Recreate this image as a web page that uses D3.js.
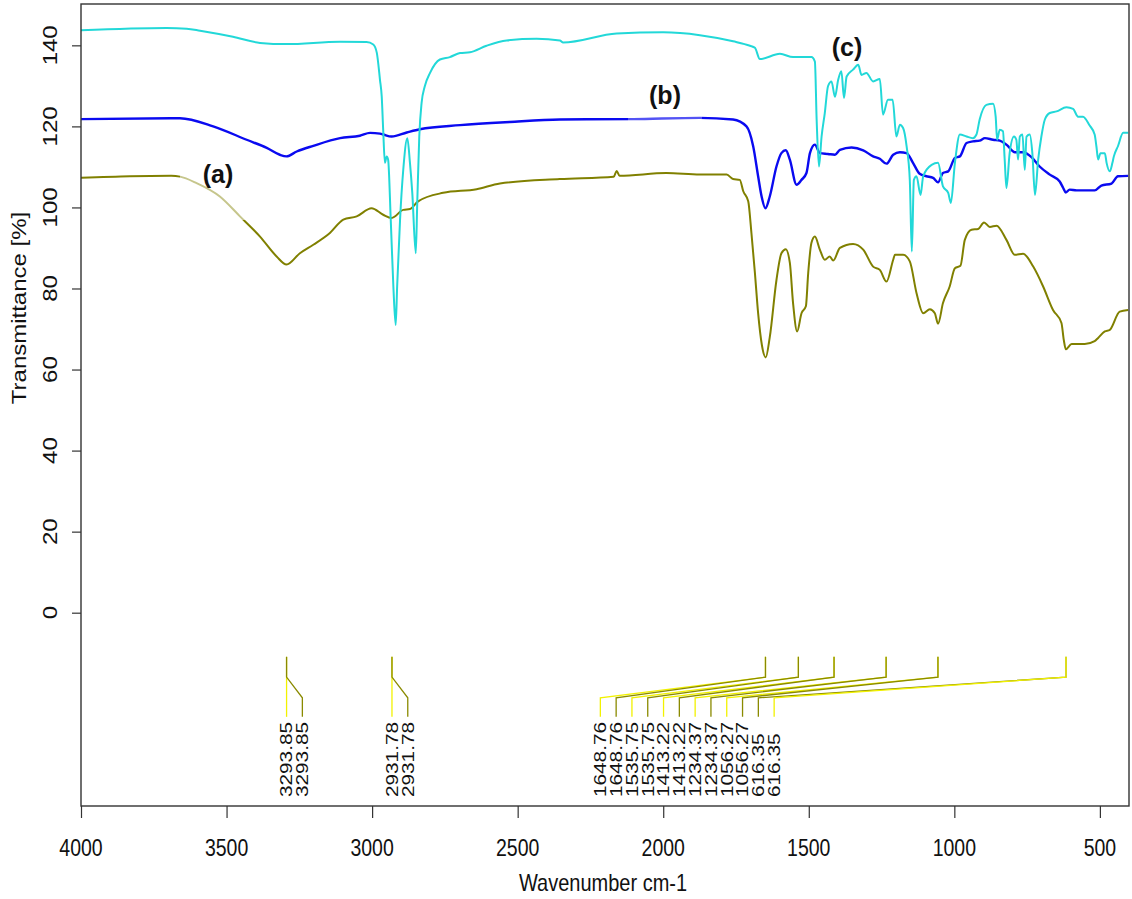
<!DOCTYPE html>
<html>
<head>
<meta charset="utf-8">
<script src="https://cdn.jsdelivr.net/npm/d3@7"></script>
<style>
  html, body { margin: 0; padding: 0; background: #fff; }
  #ftir { width: 1132px; height: 899px; }
  text { font-family: "Liberation Sans", Arial, sans-serif; }
</style>
</head>
<body>
<div id="ftir"></div>
<script>
// ---- data (wavenumber cm-1, transmittance %) ----
var spectrumA = [
  [4000,107.3],[3832,107.7],[3690,107.8],[3660,107.6],[3603,106],[3523,102.7],[3454,97.8],[3385,92.8],
  [3328,87.9],[3294,85.9],[3248,88.7],[3202,90.8],[3145,93.7],[3099,97],[3053,97.8],
  [3002,99.8],[2962,98.2],[2933,97.4],[2893,99.4],[2870,99.6],[2842,101.5],[2756,103.6],
  [2641,104.5],[2561,105.9],[2355,107],[2170,107.6],[2160,109],[2150,107.8],[1989,108.5],
  [1874,108.1],[1782,108.1],[1760,107],[1737,106.8],[1725,104],[1708,101.5],[1697,93.7],
  [1685,83.8],[1674,73.9],[1661,66],[1648,63],[1634,68],[1611,82.1],[1594,88.7],[1579,89.7],
  [1565,86.3],[1554,76.4],[1540,69.4],[1525,73.9],[1510,75.6],[1502,83.8],[1491,91.2],
  [1479,92.8],[1462,89.6],[1445,87.1],[1428,87.9],[1416,86.9],[1393,90],[1348,91],
  [1313,89.6],[1279,85.4],[1256,84.6],[1233,81.7],[1210,87.1],[1204,88.3],[1176,88.3],
  [1153,86.7],[1130,78.9],[1107,73.9],[1084,74.9],[1067,73.9],[1056,71.3],[1039,76.4],
  [1016,80.5],[998,85],[979,85.6],[964,92],[941,94.5],[918,94.7],[898,96.3],[878,95.2],
  [855,95.5],[821,92],[792,88.3],[764,88.6],[729,85.4],[695,80.5],[661,74.7],[632,71.5],
  [624,67.3],[617,65],[597,66.3],[552,66.3],[518,67],[506,67.8],[483,69.4],[466,69.8],
  [432,74.3],[403,74.7]
];

var spectrumB = [
  [4000,121.8],[3660,122],[3546,120],[3431,116.7],[3362,114.7],[3317,113],[3294,112.6],
  [3259,113.8],[3202,115.2],[3110,117.1],[3042,117.7],[3007,118.4],[2973,118.2],[2962,118],
  [2933,117.5],[2881,118.5],[2836,119.3],[2698,120.3],[2527,121.1],[2355,121.7],[2103,121.8],
  [1874,122.1],[1760,121.7],[1714,120],[1691,115.1],[1674,107.7],[1662,102.7],[1649,99.8],
  [1634,102.7],[1611,110.1],[1594,113.4],[1579,114.1],[1565,111.8],[1542,105.6],[1525,106.8],
  [1508,108.5],[1496,113.4],[1479,115.5],[1462,113.4],[1434,113.2],[1410,113],[1393,114.2],
  [1353,114.8],[1313,114.1],[1279,112.6],[1256,112],[1233,110.8],[1210,113],[1187,113.6],
  [1164,113.4],[1142,111],[1119,108.3],[1096,107.7],[1073,107.3],[1056,106.2],[1039,108.5],
  [1021,108.9],[998,112.2],[981,112.6],[958,115.9],[936,116.3],[913,116.5],[895,117.1],
  [867,116.7],[844,116.5],[821,115.5],[792,113.6],[764,113.6],[735,112.4],[707,110.1],
  [672,108.1],[638,106.4],[626,104.8],[617,103.7],[604,104.4],[580,104.2],[518,104.2],
  [495,105.4],[460,105.9],[438,107.7],[403,107.8]
];

var spectrumC = [
  [4000,143.7],[3706,144.3],[3637,144.1],[3591,143.6],[3478,142.1],[3385,140.6],[3294,140.3],
  [3110,140.9],[3019,140.8],[2996,140.2],[2984,138.2],[2973,131.5],[2967,127.4],[2962,119.2],
  [2956,111],[2950,112.6],[2945,111.8],[2936,97],[2927,80.5],[2919,71],[2914,80.5],[2904,97],
  [2893,109.3],[2879,117.1],[2870,111],[2862,103.6],[2850,88.7],[2845,101],[2838,117.5],
  [2830,125.8],[2819,129.9],[2801,133.2],[2767,136.5],[2733,137.1],[2698,138.1],[2664,138.3],
  [2607,139.9],[2538,141.2],[2435,141.6],[2355,141.2],[2344,140.7],[2160,142.9],[2000,143.2],
  [1874,142.5],[1760,141],[1702,139.9],[1685,139.4],[1668,136.6],[1599,137.9],[1554,137.1],
  [1491,137.1],[1479,136],[1473,121.7],[1465,110.1],[1456,117.5],[1445,123.3],[1434,129.9],
  [1422,131.1],[1410,127.3],[1399,131.5],[1388,133.6],[1379,127],[1370,132.3],[1348,134],
  [1330,135.2],[1319,132.7],[1302,133.2],[1279,131.1],[1256,131.7],[1245,122.9],[1228,126.6],
  [1212,126.6],[1199,117.5],[1187,120.4],[1176,119.6],[1164,115.1],[1153,106.8],[1146,89.1],
  [1139,106.8],[1130,107.7],[1116,103.1],[1107,107.7],[1078,110.5],[1056,111],[1039,105.2],
  [1021,103.6],[1012,101.1],[998,111],[981,118],[958,117.5],[936,117.1],[924,118],[913,121.7],
  [890,125.3],[867,125.6],[858,122.4],[853,116.7],[844,119.2],[833,118.8],[827,111.8],
  [821,104.8],[810,113.4],[795,117.5],[787,116.7],[781,111.8],[775,117.5],[766,118],
  [758,109.3],[752,117.5],[741,118],[732,113.4],[723,103.1],[712,111.8],[701,117.5],
  [689,121.7],[672,123.3],[649,123.7],[615,124.7],[592,124.3],[575,122.4],[558,122.4],
  [535,120.2],[518,118],[512,115.1],[506,111.8],[498,113.4],[483,113.4],[477,111],[466,108.9],
  [457,111],[452,112.6],[438,115.1],[420,118.4],[403,118.4]
];

var seriesNames = ["(a)", "(b)", "(c)"];
var seriesColors = ["#808000", "#0a0af0", "#22d8d8"];

var xTicks = [4000, 3500, 3000, 2500, 2000, 1500, 1000, 500];
var yTicks = [0, 20, 40, 60, 80, 100, 120, 140];

var peakGroups = [
  { peaks: [3293.85], start: 3293.85 },
  { peaks: [2931.78], start: 2931.78 },
  { peaks: [1648.76, 1535.75, 1413.22, 1234.37, 1056.27, 616.35], start: 2216 }
];
var peakLineColors = ["#f2f200", "#8a8a00"];
var lastPairSwapped = true;

(function () {
  var width = 1132, height = 899,
      left = 81, right = 1129, top = 4, bottom = 806,
      stretch = 1.2;

  var x = d3.scaleLinear().domain([4000, 400]).range([left, right]);
  var y = d3.scaleLinear().domain([-47.7, 150.2]).range([bottom, top]);

  var svg = d3.select("#ftir").append("svg")
      .attr("width", width)
      .attr("height", height);

  /* ---------------- axes ---------------- */
  var xAxis = svg.append("g")
      .attr("transform", "translate(0," + bottom + ")")
      .call(d3.axisBottom(x).tickValues(xTicks).tickSize(12).tickFormat(""));
  xAxis.select(".domain").remove();
  xAxis.selectAll("line").attr("stroke", "#333").attr("stroke-width", 1.2);

  var yAxis = svg.append("g")
      .attr("transform", "translate(" + left + ",0)")
      .call(d3.axisLeft(y).tickValues(yTicks).tickSize(9).tickFormat(""));
  yAxis.select(".domain").remove();
  yAxis.selectAll("line").attr("stroke", "#333").attr("stroke-width", 1.2);

  svg.append("g").selectAll("text")
      .data(xTicks)
    .enter().append("text")
      .attr("transform", function (d) { return "translate(" + x(d) + ",855.5)scale(1," + stretch + ")"; })
      .attr("text-anchor", "middle")
      .attr("font-size", 19.5)
      .attr("fill", "#111")
      .text(function (d) { return d; });

  svg.append("g").selectAll("text")
      .data(yTicks)
    .enter().append("text")
      .attr("transform", function (d) { return "translate(57," + y(d) + ")scale(1," + stretch + ")rotate(-90)"; })
      .attr("text-anchor", "middle")
      .attr("font-size", 20)
      .attr("fill", "#111")
      .text(function (d) { return d; });

  svg.append("text")
      .attr("transform", "translate(603,891)scale(1," + stretch + ")")
      .attr("text-anchor", "middle")
      .attr("font-size", 20)
      .attr("fill", "#111")
      .text("Wavenumber cm-1");

  svg.append("text")
      .attr("transform", "translate(26,308)scale(1," + stretch + ")rotate(-90)")
      .attr("text-anchor", "middle")
      .attr("font-size", 20)
      .attr("fill", "#111")
      .text("Transmittance [%]");

  /* ---------------- spectra ---------------- */
  var line = d3.line()
      .x(function (d) { return x(d[0]); })
      .y(function (d) { return y(d[1]); })
      .curve(d3.curveMonotoneX);

  var plot = svg.append("g");
  [spectrumA, spectrumB, spectrumC].forEach(function (s, i) {
    plot.append("path")
        .datum(s)
        .attr("fill", "none")
        .attr("stroke", seriesColors[i])
        .attr("stroke-width", i === 1 ? 2.4 : 2)
        .attr("stroke-linejoin", "round")
        .attr("d", line);
  });

  // faded boxes pasted behind the (a) / (b) labels
  svg.append("rect").attr("x", 180).attr("y", 166).attr("width", 74).attr("height", 54)
      .attr("fill", "#fff").attr("opacity", 0.55);
  svg.append("rect").attr("x", 628).attr("y", 85).attr("width", 74).attr("height", 55)
      .attr("fill", "#fff").attr("opacity", 0.3);

  var labelPos = [[218, 183], [665, 104], [847, 56]];
  svg.append("g").selectAll("text")
      .data(seriesNames)
    .enter().append("text")
      .attr("x", function (d, i) { return labelPos[i][0]; })
      .attr("y", function (d, i) { return labelPos[i][1]; })
      .attr("text-anchor", "middle")
      .attr("font-family", "'Open Sans', sans-serif")
      .attr("font-weight", "bold")
      .attr("font-size", 25)
      .attr("fill", "#111")
      .text(function (d) { return d; });

  /* ---------------- peak labels ---------------- */
  var y1 = y(-10.9), y2 = y(-15.9), y3 = y(-21), y4 = y(-25.7), yt = y(-45.5),
      slotStep = 15.8;

  var peaks = svg.append("g");
  peakGroups.forEach(function (g) {
    var x0 = x(g.start), slot = 0;
    g.peaks.forEach(function (p, k) {
      for (var j = 0; j < 2; j++) {
        var col = j;
        if (lastPairSwapped && g.peaks.length > 1 && k === g.peaks.length - 1) col = 1 - j;
        var lx = x0 + slot * slotStep, px = x(p);
        peaks.append("path")
            .attr("d", "M" + px + "," + y1 + "L" + px + "," + y2 + "L" + lx + "," + y3 + "L" + lx + "," + y4)
            .attr("fill", "none")
            .attr("stroke", peakLineColors[col])
            .attr("stroke-width", 1.3);
        peaks.append("text")
            .attr("transform", "translate(" + (lx + 5.8) + "," + yt + ")scale(1,1.3)rotate(-90)")
            .attr("font-size", 16)
            .attr("fill", "#111")
            .text(p.toFixed(2));
        slot++;
      }
    });
  });

  /* ---------------- frame ---------------- */
  svg.append("rect")
      .attr("x", left).attr("y", top)
      .attr("width", right - left).attr("height", bottom - top)
      .attr("fill", "none")
      .attr("stroke", "#333")
      .attr("stroke-width", 1.4);
})();
</script>
</body>
</html>
